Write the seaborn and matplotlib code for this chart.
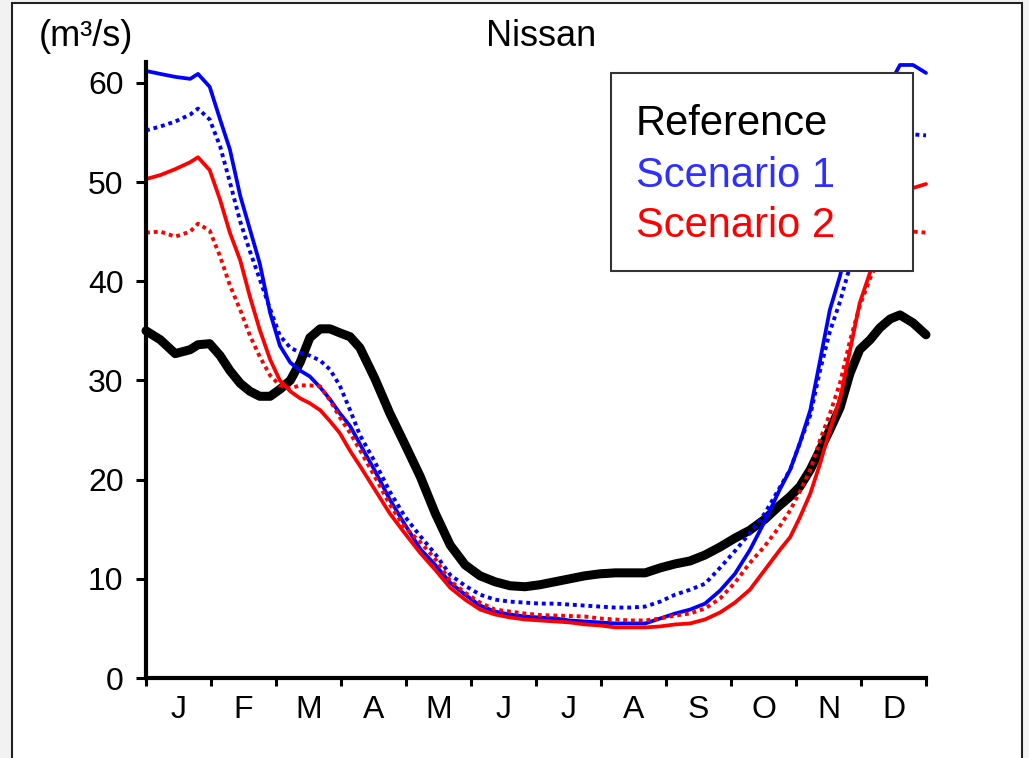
import matplotlib
matplotlib.use("Agg")
import matplotlib.pyplot as plt
import seaborn as sns
import pandas as pd
from matplotlib.patches import Rectangle

# ---------------- data (months since 1 Jan, discharge in m3/s) ----------------
months = [0.0, 0.22, 0.45, 0.68, 0.80, 0.98, 1.14, 1.29, 1.45, 1.60, 1.75, 1.91,
          2.06, 2.22, 2.37, 2.52, 2.68, 2.83, 2.98, 3.14, 3.29, 3.52, 3.75, 3.98,
          4.22, 4.45, 4.68, 4.91, 5.14, 5.37, 5.60, 5.83, 6.06, 6.29, 6.52, 6.75,
          6.98, 7.22, 7.45, 7.68, 7.91, 8.14, 8.37, 8.60, 8.83, 9.06, 9.29, 9.52,
          9.75, 9.91, 10.06, 10.22, 10.37, 10.52, 10.68, 10.83, 10.98, 11.14,
          11.29, 11.45, 11.60, 11.80, 12.0]

reference = [35.0, 34.1, 32.7, 33.1, 33.6, 33.7, 32.5, 31.0, 29.7, 28.9, 28.4, 28.4,
             29.1, 30.0, 31.8, 34.3, 35.2, 35.2, 34.8, 34.4, 33.3, 30.2, 26.7, 23.6,
             20.3, 16.6, 13.4, 11.4, 10.3, 9.7, 9.3, 9.2, 9.4, 9.7, 10.0, 10.3,
             10.5, 10.6, 10.6, 10.6, 11.1, 11.5, 11.8, 12.4, 13.2, 14.1, 14.9, 16.0,
             17.4, 18.3, 19.3, 21.0, 23.0, 25.0, 27.3, 30.7, 33.1, 34.1,
             35.3, 36.2, 36.6, 35.8, 34.6]

scen1_solid = [61.2, 60.9, 60.6, 60.4, 60.9, 59.6, 56.3, 53.3, 48.6, 45.2, 41.8, 36.8,
               33.5, 31.8, 31.0, 30.4, 29.3, 28.1, 26.7, 25.4, 23.6, 20.9, 18.0, 15.5,
               13.0, 11.4, 9.6, 8.4, 7.3, 6.7, 6.4, 6.2, 6.1, 6.0, 5.8, 5.7,
               5.6, 5.5, 5.5, 5.5, 6.0, 6.5, 6.9, 7.5, 8.8, 10.5, 12.9, 15.8,
               19.0, 21.0, 23.7, 27.0, 32.0, 37.1, 40.6, 45.0, 50.0, 54.0,
               57.5, 60.0, 61.8, 61.8, 61.0]

scen1_dotted = [55.2, 55.6, 56.1, 56.8, 57.4, 56.3, 53.6, 50.0, 46.0, 43.0, 40.2, 37.2,
                34.5, 33.3, 32.8, 32.5, 32.0, 31.1, 29.5, 27.0, 24.5, 21.8, 18.8, 16.3,
                14.3, 12.5, 10.4, 9.3, 8.4, 7.9, 7.7, 7.6, 7.5, 7.5, 7.4, 7.3,
                7.2, 7.1, 7.1, 7.2, 7.7, 8.4, 8.9, 9.5, 11.1, 12.8, 14.6, 16.6,
                19.2, 21.0, 23.7, 26.5, 31.0, 34.9, 38.0, 41.5, 45.0, 48.0,
                51.0, 53.0, 54.3, 54.8, 54.7]

scen2_solid = [50.3, 50.7, 51.3, 52.0, 52.5, 51.2, 48.2, 44.9, 42.1, 38.4, 35.1, 32.1,
               30.0, 28.9, 28.2, 27.7, 27.0, 25.9, 24.7, 22.9, 21.4, 19.0, 16.6, 14.6,
               12.6, 10.9, 9.1, 7.9, 6.9, 6.4, 6.1, 5.9, 5.8, 5.7, 5.6, 5.4,
               5.3, 5.1, 5.1, 5.1, 5.2, 5.4, 5.5, 5.9, 6.6, 7.6, 8.9, 10.9,
               12.9, 14.2, 16.2, 18.6, 21.6, 25.0, 28.2, 33.0, 37.8, 40.9,
               44.0, 46.5, 48.3, 49.4, 49.8]

scen2_dotted = [44.9, 45.0, 44.5, 45.0, 45.8, 45.1, 42.5, 39.6, 37.1, 34.5, 32.4, 30.5,
                29.5, 29.2, 29.5, 29.5, 29.4, 28.0, 26.3, 24.7, 23.0, 20.3, 17.5, 15.2,
                13.7, 12.0, 9.8, 8.6, 7.6, 6.9, 6.7, 6.5, 6.35, 6.3, 6.25, 6.2,
                6.0, 5.9, 5.8, 5.8, 6.0, 6.3, 6.5, 7.0, 8.0, 9.6, 11.6, 13.3,
                15.3, 16.9, 18.8, 21.0, 24.0, 26.6, 29.8, 34.0, 37.5, 40.3,
                42.5, 44.0, 44.8, 45.0, 44.9]

month_labels = ["J", "F", "M", "A", "M", "J", "J", "A", "S", "O", "N", "D"]
y_ticks = [0, 10, 20, 30, 40, 50, 60]
legend_labels = ["Reference", "Scenario 1", "Scenario 2"]
title = "Nissan"
unit_label = "(m\u00b3/s)"

# ---------------- styling ----------------
sns.set_style("ticks")
plt.rcParams["font.family"] = ["Liberation Sans", "DejaVu Sans"]
plt.rcParams["text.color"] = "black"
plt.rcParams["xtick.color"] = "black"
plt.rcParams["ytick.color"] = "black"

W, H = 1029, 758
fig = plt.figure(figsize=(W / 100, H / 100), dpi=100)
fig.patch.set_facecolor("#f2f2f2")
# white outer frame (behind the axes)
fig.patches.append(Rectangle((12 / W, 1 - 770 / H), (1022 - 12) / W, (770 - 3) / H,
                             transform=fig.transFigure, facecolor="white",
                             edgecolor="#222222", linewidth=1.5, zorder=-10))

ax = fig.add_axes([146 / W, 1 - 678 / H, 780 / W, (678 - 62) / H])
ax.set_zorder(1)
ax.set_facecolor("white")

df = pd.DataFrame({"month": months, "ref": reference, "s1": scen1_solid,
                   "s1d": scen1_dotted, "s2": scen2_solid, "s2d": scen2_dotted})

series = [("ref", "black", 6.5, "-"),
          ("s1", "#0000ff", 2.7, "-"),
          ("s1d", "#0000ff", 2.8, (0, (1, 1))),
          ("s2", "#ff0000", 2.7, "-"),
          ("s2d", "#ff0000", 2.8, (0, (1, 1)))]
for col, color, lw, ls in series:
    sns.lineplot(data=df, x="month", y=col, ax=ax, color=color, linewidth=lw,
                 linestyle=ls, estimator=None, sort=False, clip_on=False,
                 dash_capstyle="butt", solid_joinstyle="round")

ax.set_xlim(0, 12)
ax.set_ylim(0, 62.1)
ax.set_xlabel("")
ax.set_ylabel("")

for side in ["top", "right"]:
    ax.spines[side].set_visible(False)
for side in ["left", "bottom"]:
    ax.spines[side].set_linewidth(3)
    ax.spines[side].set_color("black")

ax.set_yticks(y_ticks)
ax.set_yticklabels([str(v) for v in y_ticks])
ax.tick_params(axis="y", direction="out", length=7.2, width=2.2, pad=9,
               labelsize=23, colors="black")

ax.set_xticks(range(13))
ax.set_xticklabels([""] * 13)
ax.set_xticks([i + 0.5 for i in range(12)], minor=True)
ax.set_xticklabels(month_labels, minor=True)
ax.tick_params(axis="x", which="major", direction="out", length=5.8, width=2.2,
               colors="black")
ax.tick_params(axis="x", which="minor", length=0, pad=12, labelsize=23,
               colors="black")

# titles
fig.text(541 / W, 1 - 36 / H, title, ha="center", va="center", fontsize=26,
         color="black")
fig.text(86 / W, 1 - 36 / H, unit_label, ha="center", va="center", fontsize=26,
         color="black")

# legend box (drawn above the axes)
x0, y0, x1, y1 = 611, 73, 913, 271
fig.patches.append(Rectangle((x0 / W, 1 - y1 / H), (x1 - x0) / W, (y1 - y0) / H,
                             transform=fig.transFigure, facecolor="white",
                             edgecolor="#333333", linewidth=1.5, zorder=5))
leg_colors = ["black", "#2f2fff", "#ff0000"]
baselines = [135, 187, 237]
for lab, c, b in zip(legend_labels, leg_colors, baselines):
    fig.text(636 / W, 1 - b / H, lab, color=c, fontsize=30, ha="left",
             va="baseline", zorder=6)

fig.savefig("out.png", dpi=100, facecolor=fig.get_facecolor())
